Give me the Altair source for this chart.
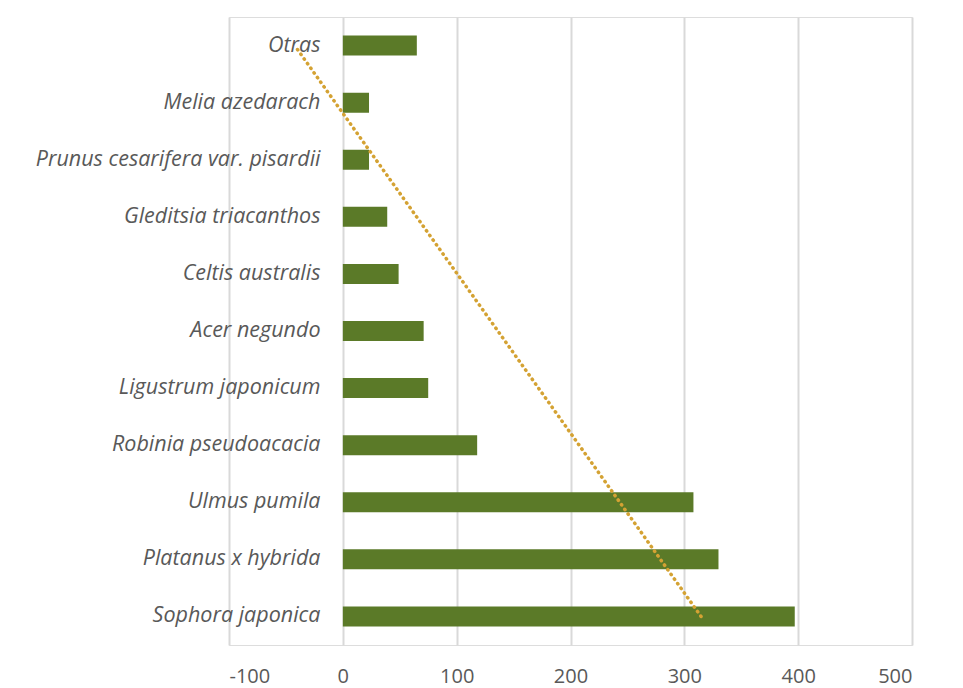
import altair as alt
import pandas as pd
import numpy as np

species = [
    "Otras",
    "Melia azedarach",
    "Prunus cesarifera var. pisardii",
    "Gleditsia triacanthos",
    "Celtis australis",
    "Acer negundo",
    "Ligustrum japonicum",
    "Robinia pseudoacacia",
    "Ulmus pumila",
    "Platanus x hybrida",
    "Sophora japonica",
]
counts = [65, 23, 23, 39, 49, 71, 75, 118, 308, 330, 397]
x_ticks = [-100, 0, 100, 200, 300, 400, 500]

# Excel-style linear trendline: category index counted from the bottom
idx = np.arange(len(species), 0, -1)
slope, intercept = np.polyfit(idx, counts, 1)
trend = slope * idx + intercept

df = pd.DataFrame({"species": species, "count": counts, "idx": idx, "trend": trend})

FONT = "Open Sans"
GRAY = "#595959"

y_enc = alt.Y(
    "species:N",
    sort=species,
    scale=alt.Scale(paddingInner=0.65, paddingOuter=0.325),
    axis=alt.Axis(
        title=None,
        domain=False,
        ticks=False,
        offset=-114,
        labelPadding=23,
        labelFont=FONT,
        labelFontStyle="italic",
        labelFontSize=21.5,
        labelColor=GRAY,
        labelLimit=400,
    ),
)
x_enc = alt.X(
    "count:Q",
    scale=alt.Scale(domain=[-100, 500], nice=False, zero=False),
    axis=alt.Axis(
        title=None,
        values=x_ticks,
        domain=False,
        ticks=False,
        grid=True,
        gridColor="#d9d9d9",
        gridWidth=2,
        labelFont=FONT,
        labelFontSize=20,
        labelColor=GRAY,
        labelPadding=21,
        labelExpr="'' + datum.value",
    ),
)

bars = alt.Chart(df).mark_bar(color="#5b7a28").encode(x=x_enc, y=y_enc)

line = alt.Chart(df).mark_line(
    color="#d4a233", strokeWidth=3.5, strokeDash=[0.5, 5.2], strokeCap="round"
).encode(
    x=alt.X("trend:Q"),
    y=alt.Y("species:N", sort=species),
    order=alt.Order("idx:Q"),
)

chart = (
    alt.layer(bars, line)
    .properties(
        width=683,
        height=628,
        autosize=alt.AutoSizeParams(type="none"),
        padding={"left": 221, "top": 9, "right": 40, "bottom": 44},
    )
    .configure_view(stroke=None)
    .configure(background="white")
)

chart.save("out.html", embed_options={"renderer": "svg", "actions": False})
